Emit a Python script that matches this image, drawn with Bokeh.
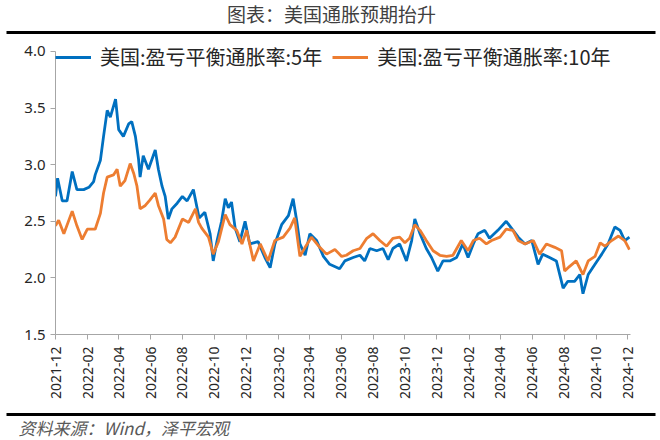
from math import pi

import pandas as pd
from bokeh.embed import file_html
from bokeh.layouts import column, row
from bokeh.models import (BoxAnnotation, DatetimeTickFormatter, FixedTicker,
                          Label, Legend, PrintfTickFormatter, Range1d)
from bokeh.plotting import figure
from bokeh.resources import INLINE

# 美国:盈亏平衡通胀率:5年
dates_5y = [
    "2021-12-01", "2021-12-05", "2021-12-14", "2021-12-23", "2022-01-02",
    "2022-01-11", "2022-01-24", "2022-02-03", "2022-02-12", "2022-02-15",
    "2022-02-25", "2022-03-03", "2022-03-10", "2022-03-16", "2022-03-26",
    "2022-04-01", "2022-04-10", "2022-04-20", "2022-04-26", "2022-05-03",
    "2022-05-09", "2022-05-12", "2022-05-18", "2022-05-28", "2022-06-10",
    "2022-06-16", "2022-06-23", "2022-06-29", "2022-07-05", "2022-07-12",
    "2022-07-22", "2022-08-01", "2022-08-10", "2022-08-22", "2022-09-02",
    "2022-09-13", "2022-09-23", "2022-09-29", "2022-10-06", "2022-10-15",
    "2022-10-22", "2022-10-28", "2022-11-03", "2022-11-10", "2022-11-19",
    "2022-11-29", "2022-12-08", "2022-12-24", "2023-01-06", "2023-01-16",
    "2023-01-25", "2023-02-07", "2023-02-20", "2023-03-01", "2023-03-08",
    "2023-03-14", "2023-03-24", "2023-04-02", "2023-04-15", "2023-04-28",
    "2023-05-10", "2023-05-29", "2023-06-08", "2023-06-24", "2023-07-07",
    "2023-07-16", "2023-07-26", "2023-08-08", "2023-08-20", "2023-08-30",
    "2023-09-08", "2023-09-21", "2023-10-04", "2023-10-14", "2023-10-20",
    "2023-10-30", "2023-11-11", "2023-11-21", "2023-12-03", "2023-12-13",
    "2023-12-26", "2024-01-08", "2024-01-20", "2024-01-30", "2024-02-09",
    "2024-02-18", "2024-03-02", "2024-03-11", "2024-03-27", "2024-04-12",
    "2024-04-22", "2024-05-05", "2024-05-18", "2024-05-31", "2024-06-12",
    "2024-06-21", "2024-07-04", "2024-07-17", "2024-07-30", "2024-08-08",
    "2024-08-21", "2024-08-31", "2024-09-06", "2024-09-16", "2024-09-29",
    "2024-10-12", "2024-10-24", "2024-11-06", "2024-11-16", "2024-11-25",
    "2024-12-04",
]
values_5y = [
    2.72, 2.88, 2.68, 2.68, 2.94, 2.78, 2.78, 2.80, 2.85, 2.91,
    3.04, 3.25, 3.48, 3.42, 3.58, 3.31, 3.25, 3.36, 3.38, 3.25,
    3.05, 2.89, 3.08, 2.96, 3.13, 2.96, 2.81, 2.72, 2.52, 2.61,
    2.66, 2.72, 2.68, 2.78, 2.53, 2.58, 2.39, 2.15, 2.32, 2.50,
    2.70, 2.62, 2.67, 2.44, 2.32, 2.50, 2.30, 2.32, 2.18, 2.09,
    2.30, 2.47, 2.55, 2.70, 2.50, 2.30, 2.20, 2.39, 2.33, 2.19,
    2.12, 2.08, 2.15, 2.18, 2.20, 2.15, 2.26, 2.24, 2.26, 2.16,
    2.26, 2.30, 2.15, 2.33, 2.52, 2.39, 2.26, 2.18, 2.06, 2.15,
    2.15, 2.18, 2.30, 2.18, 2.30, 2.39, 2.42, 2.35, 2.42, 2.50,
    2.44, 2.36, 2.30, 2.33, 2.12, 2.21, 2.18, 2.15, 1.91, 1.97,
    1.97, 2.03, 1.86, 2.03, 2.12, 2.21, 2.30, 2.45, 2.42, 2.33,
    2.36,
]

# 美国:盈亏平衡通胀率:10年
dates_10y = [
    "2021-12-01", "2021-12-07", "2021-12-17", "2022-01-02", "2022-01-11",
    "2022-01-21", "2022-01-31", "2022-02-15", "2022-02-25", "2022-03-03",
    "2022-03-10", "2022-03-22", "2022-03-29", "2022-04-04", "2022-04-13",
    "2022-04-23", "2022-04-30", "2022-05-06", "2022-05-12", "2022-05-22",
    "2022-05-31", "2022-06-10", "2022-06-16", "2022-06-26", "2022-07-02",
    "2022-07-09", "2022-07-18", "2022-08-01", "2022-08-13", "2022-08-26",
    "2022-09-01", "2022-09-07", "2022-09-20", "2022-09-29", "2022-10-09",
    "2022-10-22", "2022-10-31", "2022-11-13", "2022-11-23", "2022-12-02",
    "2022-12-15", "2022-12-28", "2023-01-12", "2023-01-25", "2023-02-10",
    "2023-02-23", "2023-03-04", "2023-03-14", "2023-03-24", "2023-04-05",
    "2023-04-21", "2023-05-04", "2023-05-20", "2023-06-02", "2023-06-11",
    "2023-06-24", "2023-07-07", "2023-07-20", "2023-08-01", "2023-08-14",
    "2023-08-27", "2023-09-08", "2023-09-21", "2023-10-01", "2023-10-10",
    "2023-10-20", "2023-10-30", "2023-11-11", "2023-11-24", "2023-12-07",
    "2023-12-20", "2024-01-01", "2024-01-17", "2024-01-30", "2024-02-09",
    "2024-02-21", "2024-03-05", "2024-03-15", "2024-03-31", "2024-04-12",
    "2024-04-25", "2024-05-05", "2024-05-18", "2024-06-03", "2024-06-15",
    "2024-06-28", "2024-07-14", "2024-07-27", "2024-08-02", "2024-08-11",
    "2024-08-24", "2024-09-06", "2024-09-16", "2024-09-29", "2024-10-09",
    "2024-10-18", "2024-10-31", "2024-11-13", "2024-11-25", "2024-12-04",
]
values_10y = [
    2.46, 2.51, 2.39, 2.59, 2.46, 2.34, 2.43, 2.43, 2.57, 2.75,
    2.89, 2.91, 2.96, 2.81, 2.86, 3.01, 2.92, 2.81, 2.61, 2.64,
    2.69, 2.75, 2.64, 2.52, 2.34, 2.31, 2.36, 2.52, 2.49, 2.61,
    2.49, 2.44, 2.36, 2.21, 2.32, 2.56, 2.47, 2.42, 2.30, 2.42,
    2.15, 2.30, 2.15, 2.33, 2.36, 2.44, 2.53, 2.19, 2.27, 2.36,
    2.27, 2.21, 2.25, 2.19, 2.20, 2.24, 2.26, 2.35, 2.39, 2.33,
    2.28, 2.35, 2.36, 2.31, 2.35, 2.47, 2.42, 2.33, 2.24, 2.20,
    2.19, 2.20, 2.33, 2.24, 2.33, 2.35, 2.30, 2.33, 2.36, 2.43,
    2.42, 2.33, 2.30, 2.33, 2.21, 2.30, 2.27, 2.24, 2.06, 2.10,
    2.15, 2.03, 2.15, 2.19, 2.31, 2.28, 2.33, 2.37, 2.33, 2.25,
]

x_tick_labels = [
    "2021-12", "2022-02", "2022-04", "2022-06", "2022-08", "2022-10",
    "2022-12", "2023-02", "2023-04", "2023-06", "2023-08", "2023-10",
    "2023-12", "2024-02", "2024-04", "2024-06", "2024-08", "2024-10",
    "2024-12",
]
y_ticks = [1.5, 2.0, 2.5, 3.0, 3.5, 4.0]

title_text = "图表：美国通胀预期抬升"
source_text = "资料来源：Wind，泽平宏观"
label_5y = "美国:盈亏平衡通胀率:5年"
label_10y = "美国:盈亏平衡通胀率:10年"

BLUE = "#0070C0"
ORANGE = "#ED7D31"
CJK = "Noto Sans CJK SC"
W = 660


def bare_figure(height):
    # frame covers the whole canvas: data units are pixels
    f = figure(width=W, height=height, x_range=(0, W), y_range=(0, height),
               x_axis_location=None, y_axis_location=None,
               toolbar_location=None, output_backend="svg", min_border=0)
    f.grid.visible = False
    f.outline_line_color = None
    return f


def thick_rule(f, y):
    f.add_layout(BoxAnnotation(left=6, right=655, bottom=y - 1.5, top=y + 1.5,
                               fill_color="black", fill_alpha=1,
                               line_color=None))


# header: title and rule
top = bare_figure(35)
top.add_layout(Label(x=331, y=22.5, text=title_text, text_align="center",
                     text_baseline="middle", text_font=CJK,
                     text_font_size="19px", text_color="#404040"))
thick_rule(top, 3)

# main chart; the range top leaves room for the legend, the axis stops at 4.0
d5 = pd.to_datetime(dates_5y)
d10 = pd.to_datetime(dates_10y)
tick_ms = [t.timestamp() * 1000 for t in pd.to_datetime(x_tick_labels)]

p = figure(width=W, height=373, x_axis_type="datetime",
           x_range=Range1d(pd.Timestamp("2021-12-01"), pd.Timestamp("2024-12-06")),
           y_range=Range1d(1.5, 4.0795),
           toolbar_location=None, output_backend="svg",
           min_border_left=55, min_border_right=30,
           min_border_top=7, min_border_bottom=74)
p.grid.visible = False
p.outline_line_color = None

l5 = p.line(d5, values_5y, line_color=BLUE, line_width=2.8)
l10 = p.line(d10, values_10y, line_color=ORANGE, line_width=2.8)

p.xaxis.ticker = FixedTicker(ticks=tick_ms)
p.xaxis.formatter = DatetimeTickFormatter(
    days="%Y-%m", months="%Y-%m", years="%Y-%m", hours="%Y-%m")
p.xaxis.major_label_orientation = pi / 2
p.yaxis.ticker = FixedTicker(ticks=y_ticks)
p.yaxis.formatter = PrintfTickFormatter(format="%.1f")
p.yaxis.bounds = (1.5, 4.0)

for ax in (p.xaxis, p.yaxis):
    ax.axis_line_color = "#a6a6a6"
    ax.major_tick_line_color = "#a6a6a6"
    ax.major_tick_out = 5
    ax.major_tick_in = 0
    ax.minor_tick_line_color = None
    ax.major_label_text_font = "Noto Sans"
    ax.major_label_text_color = "#262626"
p.xaxis.major_label_text_font_size = "14px"
p.xaxis.major_label_standoff = 7
p.yaxis.major_label_text_font_size = "15px"
p.yaxis.major_label_standoff = 5

legend = Legend(items=[(label_5y, [l5]), (label_10y, [l10])],
                location="top_left", orientation="horizontal",
                glyph_width=36, glyph_height=18, label_height=18,
                label_standoff=9, spacing=10, padding=0, margin=0,
                label_text_font=CJK, label_text_font_size="20px",
                label_text_color="#262626",
                background_fill_alpha=0, border_line_alpha=0)
p.add_layout(legend)

# footer: rule and source note
bottom = bare_figure(32)
thick_rule(bottom, 26)
bottom.add_layout(Label(x=18, y=13, text=source_text, text_baseline="middle",
                        text_font=CJK, text_font_size="17px",
                        text_font_style="italic", text_color="#595959"))

# the chart sits in its own row so the header/footer frames are not aligned to it
page = column(top, row(p), bottom)
open("out.html", "w").write(file_html(page, INLINE))
